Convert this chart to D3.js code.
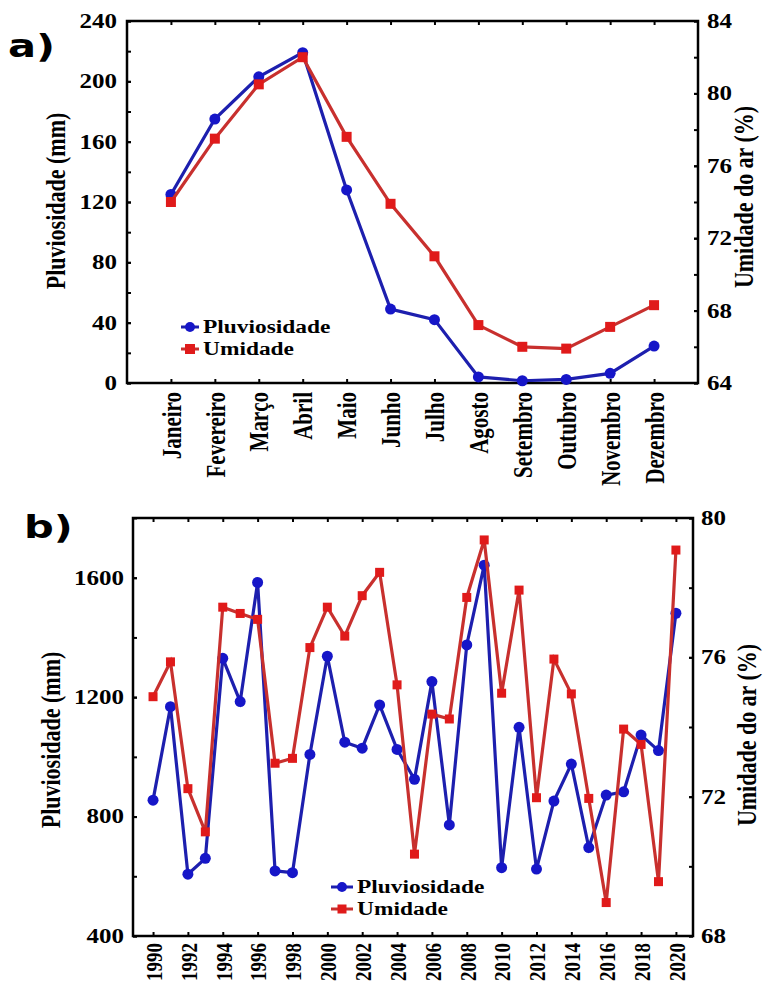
<!DOCTYPE html>
<html>
<head>
<meta charset="utf-8">
<script src="https://cdn.jsdelivr.net/npm/d3@7"></script>
<style>
  body { margin: 0; background: #fff; }
</style>
</head>
<body>
<div id="chart"></div>
<script>
// ---- data ----
const months = ["Janeiro", "Fevereiro", "Março", "Abril", "Maio", "Junho",
                "Julho", "Agosto", "Setembro", "Outubro", "Novembro", "Dezembro"];
const rainMonth = [125, 175, 203, 219, 128, 49, 42, 4, 1.5, 2.4, 6.4, 24.5];
const humMonth = [74.0, 77.5, 80.5, 82.0, 77.6, 73.9, 71.0, 67.2, 66.0, 65.9, 67.1, 68.3];

const years = [1990, 1991, 1992, 1993, 1994, 1995, 1996, 1997, 1998, 1999, 2000,
               2001, 2002, 2003, 2004, 2005, 2006, 2007, 2008, 2009, 2010,
               2011, 2012, 2013, 2014, 2015, 2016, 2017, 2018, 2019, 2020];
const rainYear = [855, 1168, 607, 660, 1330, 1185, 1584, 618, 612, 1008, 1337,
                  1049, 1029, 1174, 1025, 925, 1252, 772, 1375, 1642, 629,
                  1099, 624, 852, 976, 696, 872, 883, 1073, 1021, 1481];
const humYear = [74.87, 75.87, 72.23, 70.99, 77.44, 77.26, 77.09, 72.96, 73.10, 76.28, 77.44,
                 76.61, 77.77, 78.44, 75.21, 70.35, 74.37, 74.23, 77.72, 79.37, 74.97,
                 77.93, 71.97, 75.95, 74.95, 71.95, 68.96, 73.94, 73.50, 69.56, 79.08];

// tick labels
const rainTicksA = [0, 40, 80, 120, 160, 200, 240];
const humTicksA = [64, 68, 72, 76, 80, 84];
const rainTicksB = [400, 800, 1200, 1600];
const humTicksB = [68, 72, 76, 80];
const yearTicks = [1990, 1992, 1994, 1996, 1998, 2000, 2002, 2004, 2006, 2008, 2010,
                   2012, 2014, 2016, 2018, 2020];

const BLUE_LINE = "#1d1fae", BLUE_DOT = "#1616c8";
const RED_LINE = "#c8302e", RED_DOT = "#e01a1a";
const SERIF = "'Liberation Serif', 'Times New Roman', serif";
const STRETCH = 1.25;   // the source picture is stretched sideways
const fmt = d3.format("d");

const svg = d3.select("#chart").append("svg")
    .attr("width", 772)
    .attr("height", 988);

// make horizontal text wider, like in the picture
function widen(sel, k) {
    sel.each(function () {
        const w = this.getComputedTextLength();
        d3.select(this).attr("textLength", w * k).attr("lengthAdjust", "spacingAndGlyphs");
    });
}

function styleAxis(g, size) {
    g.attr("font-family", SERIF).attr("font-size", size).attr("font-weight", "bold");
    g.select(".domain").remove();
    g.selectAll(".tick line").attr("stroke", "#000").attr("stroke-width", 2);
    g.selectAll(".tick text").attr("fill", "#000");
}

function drawPanel(o) {
    const g = svg.append("g");
    const { x, yL, yR } = o;
    const [x0, x1] = x.range();
    const [y1, y0] = yL.range();

    // left axis
    g.append("g").attr("transform", `translate(${x0},0)`)
        .call(d3.axisLeft(yL).tickValues(o.leftMinor).tickSize(-4).tickFormat(""))
        .call(a => styleAxis(a, 20));
    g.append("g").attr("transform", `translate(${x0},0)`)
        .call(d3.axisLeft(yL).tickValues(o.leftTicks).tickSize(-4).tickPadding(o.padL).tickFormat(fmt))
        .call(a => styleAxis(a, 20))
        .call(a => widen(a.selectAll("text"), STRETCH));

    // right axis
    g.append("g").attr("transform", `translate(${x1},0)`)
        .call(d3.axisRight(yR).tickValues(o.rightMinor).tickSize(-4).tickFormat(""))
        .call(a => styleAxis(a, 20));
    g.append("g").attr("transform", `translate(${x1},0)`)
        .call(d3.axisRight(yR).tickValues(o.rightTicks).tickSize(-4).tickPadding(o.padR).tickFormat(fmt))
        .call(a => styleAxis(a, 20))
        .call(a => widen(a.selectAll("text"), STRETCH));

    // bottom axis, rotated labels
    const bottom = d3.axisBottom(x).tickSize(-4);
    if (o.xTicks) bottom.tickValues(o.xTicks).tickFormat(fmt);
    g.append("g").attr("transform", `translate(0,${y1})`)
        .call(bottom)
        .call(a => styleAxis(a, o.xFont))
        .call(a => a.selectAll(".tick text")
            .attr("transform", `rotate(-90) scale(1,${STRETCH})`)
            .attr("x", -o.padB)
            .attr("y", 0)
            .attr("dy", "0.35em")
            .style("text-anchor", "end"));

    // top ticks
    const top = d3.axisTop(x).tickSize(-4).tickFormat("");
    if (o.xTicks) top.tickValues(o.xTicks);
    g.append("g").attr("transform", `translate(0,${y0})`)
        .call(top)
        .call(a => styleAxis(a, 10));

    // frame
    g.append("rect")
        .attr("x", x0).attr("y", y0)
        .attr("width", x1 - x0).attr("height", y1 - y0)
        .attr("fill", "none").attr("stroke", "#000").attr("stroke-width", 2.5);

    // rain series
    const rainPts = o.cats.map((c, i) => [x(c), yL(o.rain[i])]);
    g.append("path")
        .attr("d", d3.line()(rainPts))
        .attr("fill", "none").attr("stroke", BLUE_LINE).attr("stroke-width", 3.2);
    g.selectAll(".rain").data(rainPts).join("circle")
        .attr("cx", d => d[0]).attr("cy", d => d[1]).attr("r", 5.5)
        .attr("fill", BLUE_DOT);

    // humidity series
    const humPts = o.cats.map((c, i) => [x(c), yR(o.hum[i])]);
    g.append("path")
        .attr("d", d3.line()(humPts))
        .attr("fill", "none").attr("stroke", RED_LINE).attr("stroke-width", 3.2);
    const s = o.sq;
    g.selectAll(".hum").data(humPts).join("rect")
        .attr("x", d => d[0] - s / 2).attr("y", d => d[1] - s / 2)
        .attr("width", s).attr("height", s)
        .attr("fill", RED_DOT);

    // axis titles
    const title = (tx, ty, label) => g.append("text")
        .attr("transform", `translate(${tx},${ty}) rotate(-90) scale(1,${STRETCH})`)
        .attr("dy", "0.35em")
        .attr("text-anchor", "middle")
        .attr("font-family", SERIF).attr("font-weight", "bold").attr("font-size", 22)
        .text(label);
    title(o.titleL[0], o.titleL[1], "Pluviosidade (mm)");
    title(o.titleR[0], o.titleR[1], "Umidade do ar (%)");

    // legend
    const lg = g.append("g");
    const [lx0, lx1, ly] = o.legend;
    const items = [["Pluviosidade", BLUE_LINE, BLUE_DOT, "c"], ["Umidade", RED_LINE, RED_DOT, "s"]];
    items.forEach(([name, lc, mc, shape], i) => {
        const yy = ly + i * 22;
        lg.append("line").attr("x1", lx0).attr("x2", lx1).attr("y1", yy).attr("y2", yy)
            .attr("stroke", lc).attr("stroke-width", 3);
        const mx = (lx0 + lx1) / 2;
        if (shape === "c") {
            lg.append("circle").attr("cx", mx).attr("cy", yy).attr("r", 5).attr("fill", mc);
        } else {
            lg.append("rect").attr("x", mx - s / 2).attr("y", yy - s / 2)
                .attr("width", s).attr("height", s).attr("fill", mc);
        }
        lg.append("text")
            .attr("x", lx1 + 4).attr("y", yy).attr("dy", "0.35em")
            .attr("font-family", SERIF).attr("font-weight", "bold").attr("font-size", 18)
            .text(name)
            .call(t => widen(t, 1.3));
    });

    // panel letter
    g.append("text")
        .attr("x", o.letter[0]).attr("y", o.letter[1])
        .attr("font-family", "'DejaVu Sans', sans-serif").attr("font-weight", "bold")
        .attr("font-size", 32)
        .text(o.letterText)
        .call(t => widen(t, 1.3));
}

// ---- panel a ----
drawPanel({
    cats: months,
    rain: rainMonth,
    hum: humMonth,
    x: d3.scalePoint().domain(months).range([127, 698]).padding(1),
    yL: d3.scaleLinear().domain([0, 240]).range([383, 21]),
    yR: d3.scaleLinear().domain([64, 84]).range([383, 21]),
    leftTicks: rainTicksA,
    leftMinor: d3.range(0, 241, 20),
    rightTicks: humTicksA,
    rightMinor: d3.range(64, 85, 2),
    padL: 10, padR: 9, padB: 9,
    xFont: 21,
    sq: 10,
    titleL: [55, 201],
    titleR: [743, 197],
    legend: [181, 199, 327],
    letter: [8, 57],
    letterText: "a)"
});

// ---- panel b ----
drawPanel({
    cats: years,
    rain: rainYear,
    hum: humYear,
    x: d3.scaleLinear().domain([1988.85, 2020.98]).range([133, 693]),
    yL: d3.scaleLinear().domain([400, 1800]).range([936, 518]),
    yR: d3.scaleLinear().domain([68, 80]).range([936, 518]),
    leftTicks: rainTicksB,
    leftMinor: d3.range(400, 1801, 200),
    rightTicks: humTicksB,
    rightMinor: d3.range(68, 81, 2),
    xTicks: yearTicks,
    padL: 9, padR: 8, padB: 7,
    xFont: 19,
    sq: 9,
    titleL: [50, 740],
    titleR: [746, 735],
    legend: [331, 353, 887],
    letter: [24, 538],
    letterText: "b)"
});
</script>
</body>
</html>
